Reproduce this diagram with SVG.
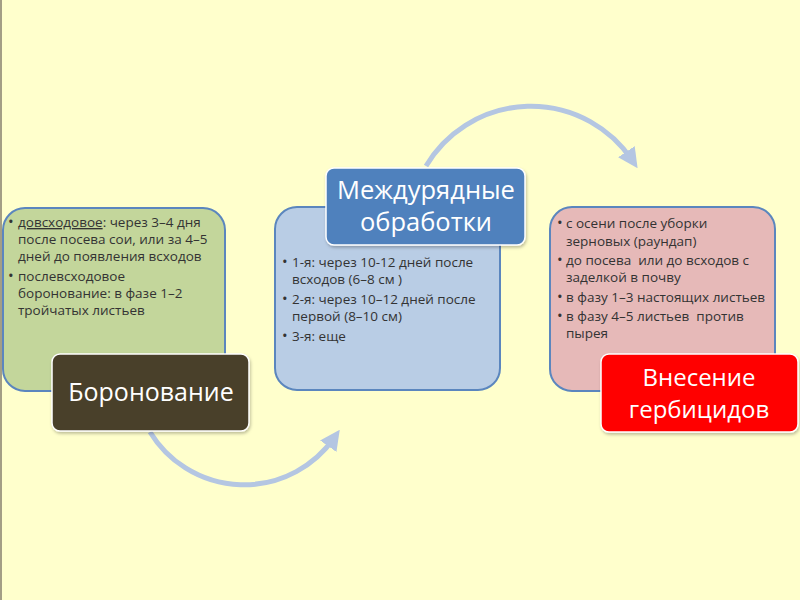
<svg xmlns="http://www.w3.org/2000/svg" width="800" height="600" viewBox="0 0 800 600">
<defs>
<style>
.bg{fill:#FFFFCC}
.card{stroke:#5B86BE;stroke-width:2}
.t{font-family:"Open Sans","Noto Sans",sans-serif;font-size:13.5px;fill:#333333}
.b{font-size:15px}
.ttl{font-family:"Open Sans","Noto Sans",sans-serif;fill:#ffffff;text-anchor:middle}
.lbl{stroke:#ffffff;stroke-width:1.5}
.arc{fill:none;stroke:#B4C6E2;stroke-width:5}
</style>
<marker id="ah" viewBox="0 0 10 10" refX="5" refY="5" markerWidth="4" markerHeight="4" orient="auto" markerUnits="strokeWidth">
<path d="M0,0 L10,5 L0,10 Z" fill="#B4C6E2"/>
</marker>
<filter id="sh" x="-10%" y="-10%" width="120%" height="130%">
<feDropShadow dx="1" dy="2" stdDeviation="1.5" flood-color="#000" flood-opacity="0.25"/>
</filter>
</defs>
<rect class="bg" x="0" y="0" width="800" height="600"/>
<rect x="0" y="0" width="2" height="600" fill="#A39E85"/>

<g id="connectors">
<path class="arc" d="M150,432 A110,110 0 0 0 334,438" marker-end="url(#ah)"/>
<path class="arc" d="M426,166 A122,122 0 0 1 632,160" marker-end="url(#ah)"/>
</g>

<g id="box-harrowing">
<rect class="card" x="3" y="208" width="222" height="183" rx="22" fill="#C3D69B"/>
<text class="t">
<tspan class="b" x="8" y="227">•</tspan><tspan x="18" y="227" text-decoration="underline">довсходовое</tspan><tspan>: через 3–4 дня</tspan>
<tspan x="18" y="244">после посева сои, или за 4–5</tspan>
<tspan x="18" y="261">дней до появления всходов</tspan>
<tspan class="b" x="8" y="281">•</tspan><tspan x="18" y="281">послевсходовое</tspan>
<tspan x="18" y="298">боронование: в фазе 1–2</tspan>
<tspan x="18" y="315">тройчатых листьев</tspan>
</text>
</g>

<g id="title-harrowing">
<rect class="lbl" x="52" y="354" width="197" height="77" rx="8" fill="#4A4029" filter="url(#sh)"/>
<text class="ttl" x="151" y="401" font-size="25">Боронование</text>
</g>

<g id="box-interrow">
<rect class="card" x="275" y="207" width="225" height="183" rx="22" fill="#B9CDE5"/>
<text class="t">
<tspan class="b" x="282" y="267">•</tspan><tspan x="292" y="267">1-я: через 10-12 дней после</tspan>
<tspan x="292" y="284">всходов (6–8 см )</tspan>
<tspan class="b" x="282" y="304">•</tspan><tspan x="292" y="304">2-я: через 10–12 дней после</tspan>
<tspan x="292" y="321">первой (8–10 см)</tspan>
<tspan class="b" x="282" y="341">•</tspan><tspan x="292" y="341">3-я: еще</tspan>
</text>
</g>

<g id="title-interrow">
<rect class="lbl" x="326" y="168" width="199" height="77" rx="8" fill="#4F81BD" filter="url(#sh)"/>
<text class="ttl" font-size="25.5"><tspan x="426" y="199">Междурядные</tspan><tspan x="426" y="231">обработки</tspan></text>
</g>

<g id="box-herbicides">
<rect class="card" x="550" y="207" width="225" height="184" rx="22" fill="#E6B9B8"/>
<text class="t">
<tspan class="b" x="557" y="228">•</tspan><tspan x="566" y="228">с осени после уборки</tspan>
<tspan x="566" y="246">зерновых (раундап)</tspan>
<tspan class="b" x="557" y="265">•</tspan><tspan x="566" y="265">до посева &#160;или до всходов с</tspan>
<tspan x="566" y="282">заделкой в почву</tspan>
<tspan class="b" x="557" y="302">•</tspan><tspan x="566" y="302">в фазу 1–3 настоящих листьев</tspan>
<tspan class="b" x="557" y="321">•</tspan><tspan x="566" y="321">в фазу 4–5 листьев &#160;против</tspan>
<tspan x="566" y="338">пырея</tspan>
</text>
</g>

<g id="title-herbicides">
<rect class="lbl" x="601" y="354" width="197" height="78" rx="8" fill="#FF0000" filter="url(#sh)"/>
<text class="ttl" font-size="24"><tspan x="699" y="386">Внесение</tspan><tspan x="699" y="418">гербицидов</tspan></text>
</g>
</svg>
